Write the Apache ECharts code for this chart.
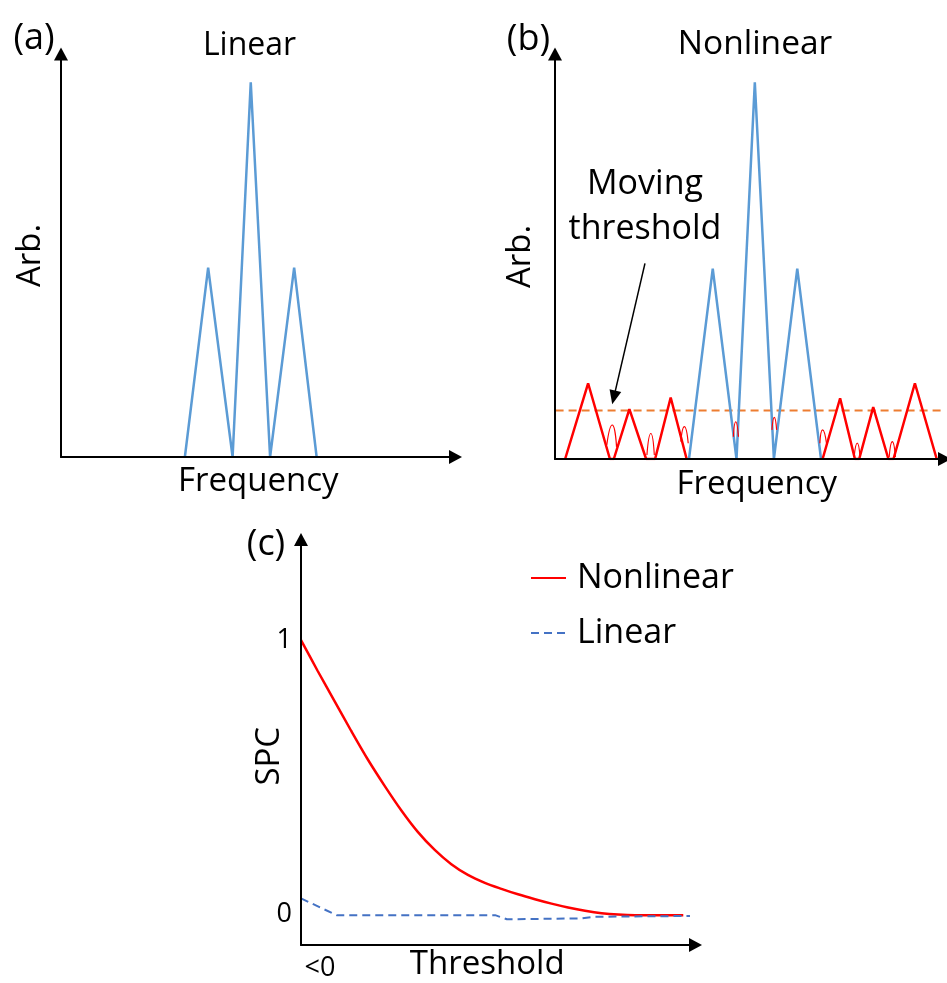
<!DOCTYPE html>
<html><head><meta charset="utf-8">
<script src="https://cdn.jsdelivr.net/npm/echarts@6/dist/echarts.min.js"></script>
<style>html,body{margin:0;padding:0;background:#fff}#c{width:947px;height:983px}</style>
</head><body><div id="c"></div>
<script>
// ---------- Panel (a): Linear spectrum ----------
const linearFreq = [31.4, 37.3, 43.5, 48.1, 53.0, 59.1, 64.8];
const linearAmp  = [0, 47, 0, 93, 0, 47, 0];

// ---------- Panel (b): Nonlinear spectrum ----------
const nlFreq = [34.4, 40.5, 46.6, 51.3, 56.2, 62.2, 68.3];
const nlAmp  = [0, 47, 0, 93, 0, 47, 0];
const noiseLeftFreq  = [2.6, 8.5, 14.1, 15.1, 19.1, 23.4, 25.7, 29.7, 33.8];
const noiseLeftAmp   = [0, 18.7, 0, 0, 12.3, 0, 0, 15.2, 0];
const noiseRightFreq = [68.7, 73.2, 77.0, 78.1, 81.7, 85.6, 86.9, 92.4, 98.0];
const noiseRightAmp  = [0, 15.0, 0, 0, 12.8, 0, 0, 18.7, 0];
// small side lobes: [freq, amp] triplets
const lobeA = [[13.3, 3.5], [14.7, 8.4], [15.8, 3.0]];
const lobeB = [[23.6, 1.0], [24.6, 6.3], [25.5, 1.0]];
const lobeC = [[32.3, 4.3], [33.2, 8.0], [34.2, 3.9]];
const lobeD = [[45.8, 5.5], [46.4, 9.2], [47.1, 5.5]];
const lobeE = [[55.7, 7.2], [56.3, 10.3], [56.9, 7.2]];
const lobeF = [[68.0, 3.9], [68.7, 7.2], [69.7, 3.9]];
const lobeG = [[76.8, 0.5], [77.6, 3.9], [78.3, 0.5]];
const lobeH = [[85.8, 0.5], [86.6, 4.3], [87.4, 0.5]];
const lobes = [lobeA, lobeB, lobeC, lobeD, lobeE, lobeF, lobeG, lobeH];
const thresholdLevel = 12;
const thresholdSpan = [-13.2, 100.2];
const arrowFrom = [23.1, 48.3];
const arrowTo   = [15.1, 15.2];

// ---------- Panel (c): SPC vs threshold ----------
const nonlinThr = [0, 4.2, 8.5, 12.7, 16.9, 21.2, 25.4, 29.6, 33.9, 38.1, 42.3, 46.6, 50.8, 55.0, 59.3, 63.5, 67.7, 72.0, 76.2, 80.4, 84.7, 96.9];
const nonlinSPC = [1.000, 0.888, 0.777, 0.669, 0.565, 0.468, 0.379, 0.300, 0.234, 0.182, 0.143, 0.114, 0.092, 0.072, 0.054, 0.038, 0.024, 0.012, 0.003, -0.002, -0.004, -0.004];
const linThr = [0, 9.0, 49.2, 52.2, 71.2, 74.5, 98.6];
const linSPC = [0.057, -0.004, -0.004, -0.019, -0.016, -0.010, -0.007];
const spcTickValues = [0, 1];
const thrTickValues = [4.8];
const thrTickLabels = ['<0'];

const zip = (a, b) => a.map((v, i) => [v, b[i]]);
const FONT = 'Open Sans';
const BLUE = '#5B9BD5', RED = '#FF0000', ORANGE = '#ED7D31', DBLUE = '#4472C4';

function axis(extra) {
  const base = {
    type: 'value',
    axisLine: { show: true, onZero: false, symbol: ['none', 'triangle'], symbolSize: [14, 13],
      lineStyle: { color: '#000', width: 2 } },
    axisTick: { show: false }, axisLabel: { show: false }, splitLine: { show: false },
    nameLocation: 'middle', nameMoveOverlap: false,
    z: 5
  };
  const o = Object.assign(base, extra);
  o.nameTextStyle = Object.assign({ fontFamily: FONT, fontSize: 33, color: '#000' }, extra.nameTextStyle || {});
  return o;
}

const chart = echarts.init(document.getElementById('c'), null, { renderer: 'canvas' });
const lineBase = { type: 'line', symbol: 'none', showSymbol: false, silent: true, animation: false };

const option = {
  animation: false,
  backgroundColor: '#fff',
  grid: [
    { left: 61, top: 54, width: 394.5, height: 403, outerBoundsMode: 'none', containLabel: false },
    { left: 555, top: 54, width: 389.5, height: 405, outerBoundsMode: 'none', containLabel: false },
    { left: 301, top: 539.5, width: 394.5, height: 405.5, outerBoundsMode: 'none', containLabel: false }
  ],
  xAxis: [
    axis({ gridIndex: 0, min: 0, max: 100, name: 'Frequency', nameGap: 8 }),
    axis({ gridIndex: 1, min: 0, max: 100, name: 'Frequency', nameGap: 9,
      nameTextStyle: { padding: [0, 0, 0, 14] } }),
    axis({ gridIndex: 2, min: 0, max: 100, name: 'Threshold', nameGap: 3,
      nameTextStyle: { padding: [0, 22, 0, 0] },
      axisLabel: { show: true, customValues: thrTickValues, formatter: (v) => thrTickLabels[0],
        fontFamily: FONT, fontSize: 27, color: '#000', margin: 10 } })
  ],
  yAxis: [
    axis({ gridIndex: 0, min: 0, max: 100, name: 'Arb.', nameGap: 14 }),
    axis({ gridIndex: 1, min: 0, max: 100, name: 'Arb.', nameGap: 18 }),
    axis({ gridIndex: 2, min: -0.113, max: 1.367, name: 'SPC', nameGap: 15,
      nameTextStyle: { padding: [0, 28, 0, 0] },
      axisLabel: { show: true, customValues: spcTickValues, fontFamily: FONT, fontSize: 27, color: '#000', margin: 9 } })
  ],
  legend: {
    data: ['Nonlinear', 'Linear'], orient: 'vertical', left: 530, top: 560,
    itemWidth: 35, itemHeight: 14, itemGap: 19, selectedMode: false, padding: 0,
    itemStyle: { opacity: 0 },
    textStyle: { fontFamily: FONT, fontSize: 34, color: '#000', lineHeight: 36, padding: [0, 0, 0, 6] }
  },
  series: [
    Object.assign({}, lineBase, { name: 'linA', xAxisIndex: 0, yAxisIndex: 0, data: zip(linearFreq, linearAmp),
      lineStyle: { color: BLUE, width: 2.5 } }),
    Object.assign({}, lineBase, { name: 'threshold', xAxisIndex: 1, yAxisIndex: 1, clip: false,
      data: thresholdSpan.map(x => [x, thresholdLevel]),
      lineStyle: { color: ORANGE, width: 2, type: [8, 5] },
      markLine: { silent: true, symbol: ['none', 'triangle'], symbolSize: [12, 14], animation: false,
        lineStyle: { color: '#000', width: 1.5, type: 'solid' }, label: { show: false },
        data: [[{ coord: arrowFrom }, { coord: arrowTo }]] } }),
    Object.assign({}, lineBase, { name: 'nlB', xAxisIndex: 1, yAxisIndex: 1, data: zip(nlFreq, nlAmp),
      lineStyle: { color: BLUE, width: 2.5 } }),
    Object.assign({}, lineBase, { name: 'noiseL', xAxisIndex: 1, yAxisIndex: 1, data: zip(noiseLeftFreq, noiseLeftAmp),
      lineStyle: { color: RED, width: 2.5 } }),
    Object.assign({}, lineBase, { name: 'noiseR', xAxisIndex: 1, yAxisIndex: 1, data: zip(noiseRightFreq, noiseRightAmp),
      lineStyle: { color: RED, width: 2.5 } })
  ].concat(lobes.map((l, i) => Object.assign({}, lineBase, { name: 'lobe' + i, xAxisIndex: 1, yAxisIndex: 1,
      data: l, smooth: 0.6, lineStyle: { color: RED, width: 1.2 } })))
  .concat([
    Object.assign({}, lineBase, { name: 'Nonlinear', xAxisIndex: 2, yAxisIndex: 2, data: zip(nonlinThr, nonlinSPC),
      smooth: 0.3, lineStyle: { color: RED, width: 2.5 }, itemStyle: { color: RED } }),
    Object.assign({}, lineBase, { name: 'Linear', xAxisIndex: 2, yAxisIndex: 2, data: zip(linThr, linSPC),
      lineStyle: { color: DBLUE, width: 2, type: [8, 5] }, itemStyle: { color: DBLUE } })
  ]),
  graphic: [
    { type: 'text', x: 34, y: 39, style: { text: '(a)', font: '36px "Open Sans"', fill: '#000', align: 'center', verticalAlign: 'middle' } },
    { type: 'text', x: 249.5, y: 46, style: { text: 'Linear', font: '32px "Open Sans"', fill: '#000', align: 'center', verticalAlign: 'middle' } },
    { type: 'text', x: 528.5, y: 40, style: { text: '(b)', font: '36px "Open Sans"', fill: '#000', align: 'center', verticalAlign: 'middle' } },
    { type: 'text', x: 755, y: 44, style: { text: 'Nonlinear', font: '33.5px "Open Sans"', fill: '#000', align: 'center', verticalAlign: 'middle' } },
    { type: 'text', x: 645, y: 184, style: { text: 'Moving', font: '34px "Open Sans"', fill: '#000', align: 'center', verticalAlign: 'middle' } },
    { type: 'text', x: 645, y: 229, style: { text: 'threshold', font: '34px "Open Sans"', fill: '#000', align: 'center', verticalAlign: 'middle' } },
    { type: 'text', x: 266, y: 545, style: { text: '(c)', font: '36px "Open Sans"', fill: '#000', align: 'center', verticalAlign: 'middle' } }
  ]
};
chart.setOption(option);
</script>
</body></html>
